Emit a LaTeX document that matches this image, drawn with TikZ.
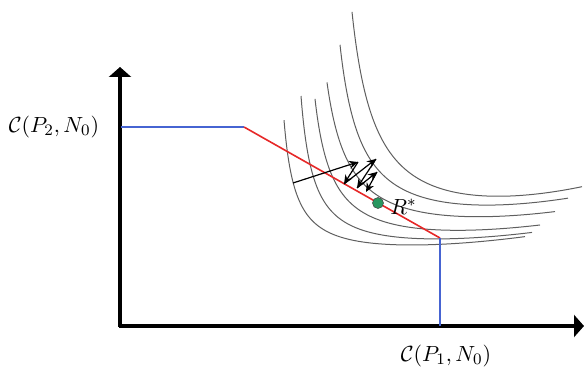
\documentclass[tikz,border=0pt]{standalone}
\usetikzlibrary{arrows.meta}
\definecolor{bluel}{RGB}{70,100,210}
\definecolor{redl}{RGB}{230,40,40}
\definecolor{curvegray}{RGB}{95,95,95}
\definecolor{dotgreen}{RGB}{40,150,95}
\tikzset{
  axisline/.style={line width=2pt, -{Triangle[width=11pt,length=5pt]}},
  budgetblue/.style={bluel, line width=0.8pt},
  budgetred/.style={redl, line width=0.8pt},
  indiff/.style={curvegray, line width=0.5pt, samples=300},
  zig/.style={black, line width=0.6pt, -{Stealth[width=4pt,length=4.5pt]}},
  lbl/.style={font=\fontsize{11.3}{13}\selectfont, inner sep=0pt},
}
\begin{document}
\begin{tikzpicture}[x=0.5pt,y=-0.5pt]
\useasboundingbox (0,0) rectangle (584,379);
% axes
\coordinate (O) at (120,326);
\coordinate (Ytip) at (120,67);
\coordinate (Xtip) at (584,326);
\draw[axisline] (120,327) -- (Ytip);
\draw[axisline] (119,326) -- (Xtip);
% indifference curves
\draw[indiff] plot[domain=284:525] (\x, {263 - 1672/(\x-272.3) - ((\x-272.3)*0.0176)^2});
\draw[indiff] plot[domain=301:532] (\x, {260 - 2082/(\x-288.3) - ((\x-288.3)*0.0179)^2});
\draw[indiff] plot[domain=315:540] (\x, {256.5 - 2803/(\x-297.2) - ((\x-297.2)*0.0184)^2});
\draw[indiff] plot[domain=327:555] (\x, {250 - 3868/(\x-303.9) - ((\x-303.9)*0.0191)^2});
\draw[indiff] plot[domain=340:568] (\x, {243.4 - 4305/(\x-318.3) - ((\x-318.3)*0.0212)^2});
\draw[indiff] plot[domain=352:582] (\x, {247 - 5776/(\x-327.4) - ((\x-327.4)*0.0241)^2});
% budget frontier
\coordinate (A) at (121,127);
\coordinate (B) at (244,127);
\coordinate (C) at (440,238);
\coordinate (D) at (440,326);
\draw[budgetblue] (A) -- (B);
\draw[budgetred] (B) -- (C);
\draw[budgetblue] (C) -- (D);
% zigzag arrows
\coordinate (z0) at (293,183);
\coordinate (z1) at (358,162);
\coordinate (z2) at (344,184);
\coordinate (z3) at (376,159);
\coordinate (z4) at (357,188);
\coordinate (z5) at (377,172);
\coordinate (z6) at (366,192);
\draw[zig] (z0) -- (z1);
\draw[zig] (z1) -- (z2);
\draw[zig] (z2) -- (z3);
\draw[zig] (z3) -- (z4);
\draw[zig] (z4) -- (z5);
\draw[zig] (z5) -- (z6);
% optimum
\node[circle, fill=dotgreen, draw=black!70, line width=0.3pt, minimum size=5.5pt, inner sep=0pt] (R) at (378,203) {};
\node[lbl, anchor=west] (Rl) at (390,207) {$R^{*}$};
% labels
\node[lbl] (l2) at (54,127) {$\mathcal{C}(P_2, N_0)$};
\node[lbl] (l1) at (446,356) {$\mathcal{C}(P_1, N_0)$};
\end{tikzpicture}
\end{document}
